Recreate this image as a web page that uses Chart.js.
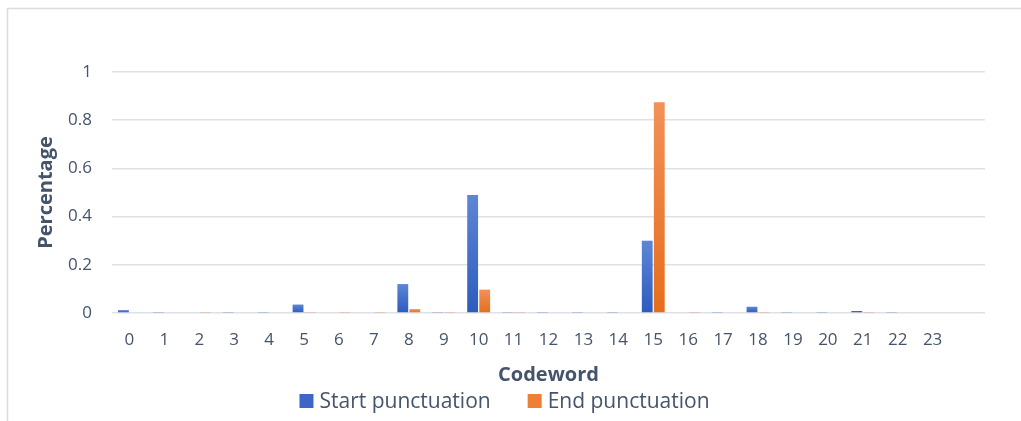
<!DOCTYPE html>
<html>
<head>
<meta charset="utf-8">
<script src="https://cdn.jsdelivr.net/npm/chart.js@4.4.1/dist/chart.umd.min.js"></script>
<style>
  html, body { margin: 0; padding: 0; background: #fff; }
  #wrap { width: 1021px; height: 421px; }
</style>
</head>
<body>
<div id="wrap"><canvas id="codewordChart" width="1021" height="421"></canvas></div>
<script>
// Data
const codewords = ['0', '1', '2', '3', '4', '5', '6', '7', '8', '9', '10', '11',
                   '12', '13', '14', '15', '16', '17', '18', '19', '20', '21', '22', '23', ''];
const startPunctuation = [0.012, 0.004, 0, 0.004, 0.004, 0.035, 0, 0, 0.12, 0.004, 0.49, 0.004,
                          0.004, 0.004, 0.004, 0.30, 0, 0.004, 0.026, 0.004, 0.004, 0.008, 0.004, 0, null];
const endPunctuation = [0, 0, 0.004, 0, 0, 0.004, 0.004, 0.004, 0.016, 0.004, 0.097, 0.004,
                        0, 0, 0, 0.875, 0.004, 0, 0.004, 0, 0, 0.004, 0, 0, null];
const yTicks = [0, 0.2, 0.4, 0.6, 0.8, 1];

const textColor = '#44546A';
const fontFamily = '"Open Sans", "Noto Sans", sans-serif';

// vertical gradient per bar, from its top down to the zero line
function barFill(topColor, bottomColor) {
    return (c) => {
        const chart = c.chart;
        if (!chart.chartArea || c.type !== 'data' || !c.parsed || !chart.scales.y) return bottomColor;
        const y = chart.scales.y.getPixelForValue(c.parsed.y);
        const base = chart.scales.y.getPixelForValue(0);
        if (!Number.isFinite(y) || !Number.isFinite(base) || base - y < 2) return bottomColor;
        const g = chart.ctx.createLinearGradient(0, y, 0, base);
        g.addColorStop(0, topColor);
        g.addColorStop(1, bottomColor);
        return g;
    };
}

// light frame like the office chart border
const framePlugin = {
    id: 'frame',
    beforeDraw(chart) {
        const ctx = chart.ctx;
        ctx.save();
        ctx.fillStyle = '#ffffff';
        ctx.fillRect(0, 0, chart.width, chart.height);
        ctx.strokeStyle = '#D9DCE1';
        ctx.lineWidth = 1.5;
        ctx.strokeRect(7.5, 8.5, chart.width + 20, chart.height + 20);
        ctx.restore();
    }
};

// legend drawn under the axis title, with a wider gap than the built-in one allows
const legendPlugin = {
    id: 'wideLegend',
    afterDraw(chart) {
        const ctx = chart.ctx;
        const box = 14, textGap = 6, itemGap = 37, y = 401;
        ctx.save();
        ctx.font = '21px ' + fontFamily;
        ctx.textBaseline = 'middle';
        const items = chart.data.datasets.map(ds => ({
            text: ds.label, color: ds.legendColor, w: ctx.measureText(ds.label).width
        }));
        let total = items.reduce((s, it) => s + box + textGap + it.w, 0) + itemGap * (items.length - 1);
        let x = (chart.width - total) / 2 - 6;
        items.forEach(it => {
            ctx.fillStyle = it.color;
            ctx.fillRect(x, y - box / 2, box, box);
            x += box + textGap;
            ctx.fillStyle = textColor;
            ctx.fillText(it.text, x, y + 1);
            x += it.w + itemGap;
        });
        ctx.restore();
    }
};

const ctx = document.getElementById('codewordChart').getContext('2d');
new Chart(ctx, {
    type: 'bar',
    data: {
        labels: codewords,
        datasets: [
            {
                label: 'Start punctuation',
                data: startPunctuation,
                backgroundColor: barFill('#5E86D6', '#2D5BBE'),
                legendColor: '#3D67C6',
                borderWidth: 0
            },
            {
                label: 'End punctuation',
                data: endPunctuation,
                backgroundColor: barFill('#F2915A', '#E56E1C'),
                legendColor: '#EE7F36',
                borderWidth: 0
            }
        ]
    },
    options: {
        responsive: false,
        animation: false,
        events: [],
        categoryPercentage: 0.69,
        barPercentage: 0.9,
        layout: { padding: { left: 26, right: 36, top: 72, bottom: 32 } },
        plugins: {
            legend: { display: false },
            tooltip: { enabled: false }
        },
        scales: {
            x: {
                afterFit: (scale) => { scale.height = 76; },
                grid: { display: false, drawTicks: false },
                border: { display: false },
                ticks: { color: textColor, padding: 17, font: { family: fontFamily, size: 17 } },
                title: {
                    display: true, text: 'Codeword', color: textColor,
                    padding: { top: 4, bottom: 2 },
                    font: { family: fontFamily, size: 20, weight: 'bold' }
                }
            },
            y: {
                min: 0,
                max: 1,
                afterBuildTicks: (scale) => { scale.ticks = yTicks.map(v => ({ value: v })); },
                afterFit: (scale) => { scale.width = 86; },
                grid: { color: '#DEE1E6', lineWidth: 1.5, drawTicks: false },
                border: { display: false },
                ticks: {
                    color: textColor, padding: 20, font: { family: fontFamily, size: 17 },
                    callback: (v) => String(Math.round(v * 10) / 10)
                },
                title: {
                    display: true, text: 'Percentage', color: textColor,
                    padding: { top: 8, bottom: 0 },
                    font: { family: fontFamily, size: 20, weight: 'bold' }
                }
            }
        }
    },
    plugins: [framePlugin, legendPlugin]
});
</script>
</body>
</html>
